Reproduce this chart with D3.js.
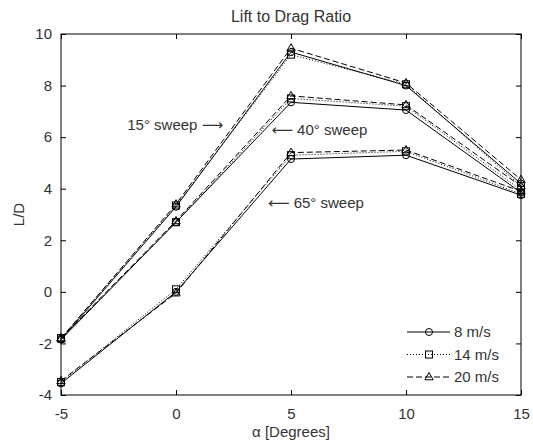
<!DOCTYPE html>
<html>
<head>
<meta charset="utf-8">
<script src="https://cdn.jsdelivr.net/npm/d3@7"></script>
<style>
  body { margin: 0; background: #fff; }
  text { font-family: "Liberation Sans", Arial, sans-serif; fill: #333; }
  .arr { font-family: "DejaVu Sans", sans-serif; }
</style>
</head>
<body>
<script>
// data
var alphas = [-5, 0, 5, 10, 15];
var speeds = ["8 m/s", "14 m/s", "20 m/s"];
var sweeps = ["15° sweep", "40° sweep", "65° sweep"];

// L/D per sweep, per speed (8, 14, 20 m/s)
var ld15 = [
  [-1.85, 3.30, 9.30, 8.00, 4.20],
  [-1.80, 3.35, 9.20, 8.05, 4.10],
  [-1.80, 3.40, 9.45, 8.10, 4.35]
];
var ld40 = [
  [-1.85, 2.70, 7.35, 7.05, 3.85],
  [-1.80, 2.70, 7.50, 7.20, 3.95],
  [-1.80, 2.75, 7.60, 7.25, 4.10]
];
var ld65 = [
  [-3.55, 0.00, 5.15, 5.30, 3.75],
  [-3.50, 0.10, 5.30, 5.45, 3.80],
  [-3.45, -0.05, 5.40, 5.50, 3.90]
];
var xTicks = [-5, 0, 5, 10, 15];
var yTicks = [-4, -2, 0, 2, 4, 6, 8, 10];

var W = 533, H = 442;
var margin = {top: 34, right: 12, bottom: 47, left: 61};
var iw = W - margin.left - margin.right,
    ih = H - margin.top - margin.bottom;

var svg = d3.select("body").append("svg")
  .attr("width", W).attr("height", H);

var g = svg.append("g")
  .attr("transform", "translate(" + margin.left + "," + margin.top + ")");

var x = d3.scaleLinear().domain([-5, 15]).range([0, iw]);
var y = d3.scaleLinear().domain([-4, 10]).range([ih, 0]);

// line style per speed
var dash = ["none", "1,2", "6,3"];
var markerType = ["circle", "square", "triangle"];

function drawMarker(sel, type, cx, cy) {
  if (type == "circle") {
    sel.append("circle").attr("cx", cx).attr("cy", cy).attr("r", 3.5)
      .attr("fill", "none").attr("stroke", "#000");
  } else if (type == "square") {
    sel.append("rect").attr("x", cx - 3.5).attr("y", cy - 3.5)
      .attr("width", 7).attr("height", 7)
      .attr("fill", "none").attr("stroke", "#000");
  } else {
    sel.append("path")
      .attr("d", "M" + cx + "," + (cy - 4.5) + "L" + (cx + 4.2) + "," + (cy + 2.8) +
                 "L" + (cx - 4.2) + "," + (cy + 2.8) + "Z")
      .attr("fill", "none").attr("stroke", "#000");
  }
}

// axes box with inward ticks
g.append("rect").attr("width", iw).attr("height", ih)
  .attr("fill", "none").attr("stroke", "#000");

var fmt = function(d) { return String(d); };  // plain hyphen minus like matlab
var tl = 5;
g.append("g").attr("transform", "translate(0," + ih + ")")
  .call(d3.axisBottom(x).tickValues(xTicks).tickFormat(fmt).tickSizeInner(-tl).tickSizeOuter(0).tickPadding(tl + 8))
  .call(function(a) { a.select(".domain").remove(); });
g.append("g")
  .call(d3.axisTop(x).tickValues(xTicks).tickSizeInner(-tl).tickSizeOuter(0).tickFormat(""))
  .call(function(a) { a.select(".domain").remove(); });
g.append("g")
  .call(d3.axisLeft(y).tickValues(yTicks).tickFormat(fmt).tickSizeInner(-tl).tickSizeOuter(0).tickPadding(tl + 4))
  .call(function(a) { a.select(".domain").remove(); });
g.append("g").attr("transform", "translate(" + iw + ",0)")
  .call(d3.axisRight(y).tickValues(yTicks).tickSizeInner(-tl).tickSizeOuter(0).tickFormat(""))
  .call(function(a) { a.select(".domain").remove(); });

g.selectAll(".tick text")
  .style("font-size", "15px")
  .attr("fill", "#333")
  .style("font-family", "'Liberation Sans', Arial, sans-serif");
g.selectAll(".tick line").attr("stroke", "#000");

// series
var line = d3.line()
  .x(function(d, i) { return x(alphas[i]); })
  .y(function(d) { return y(d); });

[ld15, ld40, ld65].forEach(function(sw) {
  sw.forEach(function(vals, k) {
    g.append("path").datum(vals)
      .attr("d", line)
      .attr("fill", "none")
      .attr("stroke", "#000")
      .attr("stroke-width", 1)
      .attr("stroke-dasharray", dash[k]);
    vals.forEach(function(v, i) {
      drawMarker(g, markerType[k], x(alphas[i]), y(v));
    });
  });
});

// annotations (long arrows from dejavu)
var ann = g.append("g").style("font-size", "15px");
var t1 = ann.append("text").attr("x", x(2.05)).attr("y", y(6.47)).attr("dy", "0.35em")
  .attr("text-anchor", "end");
t1.append("tspan").text(sweeps[0] + " ");
t1.append("tspan").attr("class", "arr").text("\u27f6");

var t2 = ann.append("text").attr("x", x(4.15)).attr("y", y(6.28)).attr("dy", "0.35em");
t2.append("tspan").attr("class", "arr").text("\u27f5");
t2.append("tspan").text(" " + sweeps[1]);

var t3 = ann.append("text").attr("x", x(4.0)).attr("y", y(3.45)).attr("dy", "0.35em");
t3.append("tspan").attr("class", "arr").text("\u27f5");
t3.append("tspan").text(" " + sweeps[2]);

// legend
var lg = svg.append("g").attr("transform", "translate(407,332)");
speeds.forEach(function(s, k) {
  var row = lg.append("g").attr("transform", "translate(0," + (k * 22.5) + ")");
  row.append("line").attr("x1", 0).attr("x2", 43).attr("y1", 0).attr("y2", 0)
    .attr("stroke", "#000").attr("stroke-dasharray", dash[k]);
  drawMarker(row, markerType[k], 22, 0);
  row.append("text").attr("x", 47).attr("y", 0).attr("dy", "0.35em")
    .style("font-size", "15px").text(s);
});

// titles
svg.append("text").attr("x", margin.left + iw / 2).attr("y", 22)
  .attr("text-anchor", "middle").style("font-size", "16px").text("Lift to Drag Ratio");
svg.append("text").attr("x", margin.left + iw / 2).attr("y", 437)
  .attr("text-anchor", "middle").style("font-size", "15px").text("\u03b1 [Degrees]");
svg.append("text")
  .attr("transform", "translate(24," + (margin.top + ih / 2) + ") rotate(-90)")
  .attr("text-anchor", "middle").style("font-size", "15px").text("L/D");
</script>
</body>
</html>
